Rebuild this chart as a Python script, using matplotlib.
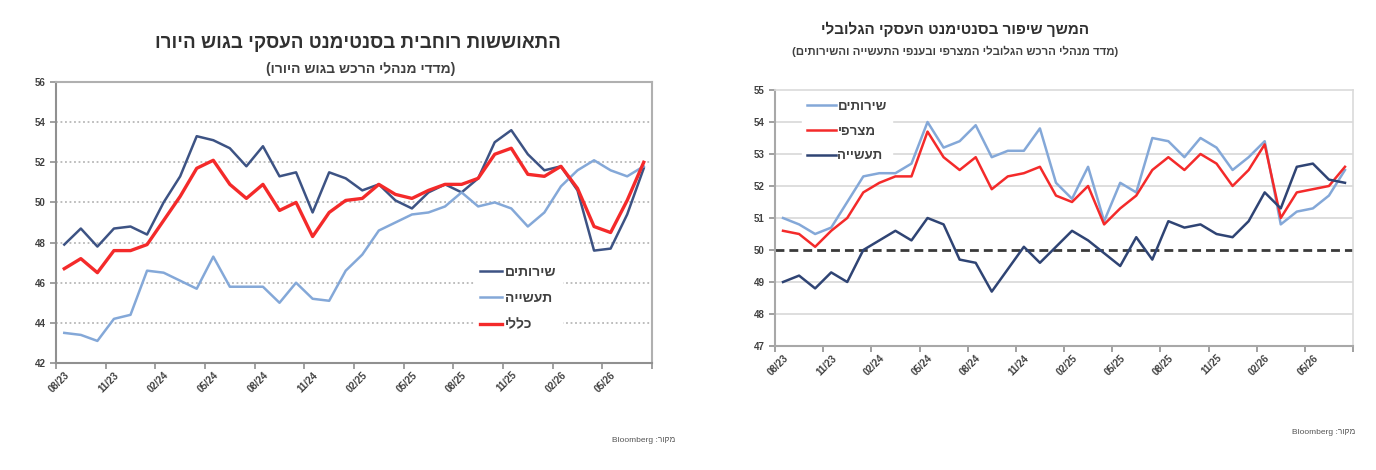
import numpy as np
import matplotlib
matplotlib.use("Agg")
import matplotlib.pyplot as plt

plt.rcParams['font.family'] = ['Liberation Sans', 'DejaVu Sans']


def heb(s):
    # matplotlib has no bidi: reverse Hebrew for display, mirror brackets
    return s[::-1].translate(str.maketrans('()', ')('))


# 36 monthly points, 08/23 .. 07/26; label every third month
tick_labels = ["08/23", "11/23", "02/24", "05/24", "08/24", "11/24",
               "02/25", "05/25", "08/25", "11/25", "02/26", "05/26"]

# ---- Eurozone PMI (left) ----
ez_services = [47.9, 48.7, 47.8, 48.7, 48.8, 48.4, 50.0, 51.3, 53.3, 53.1, 52.7, 51.8,
               52.8, 51.3, 51.5, 49.5, 51.5, 51.2, 50.6, 50.9, 50.1, 49.7, 50.5, 50.9,
               50.5, 51.2, 53.0, 53.6, 52.4, 51.6, 51.8, 50.6, 47.6, 47.7, 49.4, 51.7]
ez_manuf = [43.5, 43.4, 43.1, 44.2, 44.4, 46.6, 46.5, 46.1, 45.7, 47.3, 45.8, 45.8,
            45.8, 45.0, 46.0, 45.2, 45.1, 46.6, 47.4, 48.6, 49.0, 49.4, 49.5, 49.8,
            50.5, 49.8, 50.0, 49.7, 48.8, 49.5, 50.8, 51.6, 52.1, 51.6, 51.3, 51.8]
ez_composite = [46.7, 47.2, 46.5, 47.6, 47.6, 47.9, 49.1, 50.3, 51.7, 52.1, 50.9, 50.2,
                50.9, 49.6, 50.0, 48.3, 49.5, 50.1, 50.2, 50.9, 50.4, 50.2, 50.6, 50.9,
                50.9, 51.2, 52.4, 52.7, 51.4, 51.3, 51.8, 50.7, 48.8, 48.5, 50.1, 52.0]

# ---- Global PMI (right) ----
gl_services = [51.0, 50.8, 50.5, 50.7, 51.5, 52.3, 52.4, 52.4, 52.7, 54.0, 53.2, 53.4,
               53.9, 52.9, 53.1, 53.1, 53.8, 52.1, 51.6, 52.6, 50.9, 52.1, 51.8, 53.5,
               53.4, 52.9, 53.5, 53.2, 52.5, 52.9, 53.4, 50.8, 51.2, 51.3, 51.7, 52.5]
gl_composite = [50.6, 50.5, 50.1, 50.6, 51.0, 51.8, 52.1, 52.3, 52.3, 53.7, 52.9, 52.5,
                52.9, 51.9, 52.3, 52.4, 52.6, 51.7, 51.5, 52.0, 50.8, 51.3, 51.7, 52.5,
                52.9, 52.5, 53.0, 52.7, 52.0, 52.5, 53.3, 51.0, 51.8, 51.9, 52.0, 52.6]
gl_manuf = [49.0, 49.2, 48.8, 49.3, 49.0, 50.0, 50.3, 50.6, 50.3, 51.0, 50.8, 49.7,
            49.6, 48.7, 49.4, 50.1, 49.6, 50.1, 50.6, 50.3, 49.9, 49.5, 50.4, 49.7,
            50.9, 50.7, 50.8, 50.5, 50.4, 50.9, 51.8, 51.3, 52.6, 52.7, 52.2, 52.1]

NAVY = "#3d5384"
LIGHT = "#84a8d8"
RED = "#f42a2a"
TXT = "#404040"

x = np.arange(len(ez_services))

fig = plt.figure(figsize=(13.76, 4.70), dpi=100)


def setup_xaxis(ax):
    ax.set_xlim(-0.5, len(x) - 0.5)
    ax.set_xticks(np.arange(-0.5, len(x), 3))
    ax.set_xticklabels([])
    ax.set_xticks(np.arange(0, len(x), 3), tick_labels, minor=True)
    ax.tick_params(axis="x", which="major", length=4, width=1.2, color="#909090")
    ax.tick_params(axis="x", which="minor", length=0, pad=5)
    for lab in ax.get_xticklabels(minor=True):
        lab.set_rotation(45)
        lab.set_ha("right")
        lab.set_rotation_mode("anchor")
        lab.set_fontsize(7)
        lab.set_fontweight("bold")
        lab.set_color(TXT)
    ax.tick_params(axis="y", length=4, width=1.2, color="#909090",
                   labelsize=7, labelcolor=TXT)
    for lab in ax.get_yticklabels():
        lab.set_fontweight("bold")


# ---------------- left: eurozone ----------------
ax1 = fig.add_axes([56 / 1376, 1 - 363 / 470, 596 / 1376, 281 / 470])
ax1.set_ylim(42, 56)
ax1.set_yticks(range(42, 57, 2))
for v in range(44, 56, 2):
    ax1.axhline(v, color="#b8b8b8", lw=1.3, ls=(0, (1, 1.5)), zorder=0)
ax1.plot(x, ez_services, color=NAVY, lw=1.8, label=heb("שירותים"))
ax1.plot(x, ez_manuf, color=LIGHT, lw=1.8, label=heb("תעשייה"))
ax1.plot(x, ez_composite, color=RED, lw=2.4, label=heb("כללי"))
setup_xaxis(ax1)
for s in ax1.spines.values():
    s.set_color("#b0b0b0")
    s.set_linewidth(1.5)
ax1.spines["left"].set_color("#909090")
ax1.spines["bottom"].set_color("#909090")
leg1 = ax1.legend(loc="upper left", bbox_to_anchor=(0.69, 0.395), frameon=True,
                  fancybox=False, edgecolor="white", framealpha=1,
                  handlelength=1.6, handletextpad=0.2, labelspacing=0.9,
                  prop={"size": 10, "weight": "bold"})
for t in leg1.get_texts():
    t.set_color(TXT)

fig.text(358 / 1376, 1 - 43 / 470, heb("התאוששות רוחבית בסנטימנט העסקי בגוש היורו"),
         ha="center", va="center", fontsize=13.5, fontweight="bold", color="#303030")
fig.text(361 / 1376, 1 - 69 / 470, heb("(מדדי מנהלי הרכש בגוש היורו)"),
         ha="center", va="center", fontsize=10, fontweight="bold", color="#404040")
fig.text(675 / 1376, 1 - 440 / 470, "Bloomberg :" + heb("מקור"),
         ha="right", va="center", fontsize=6, color="#555555")

# ---------------- right: global ----------------
ax2 = fig.add_axes([775 / 1376, 1 - 346 / 470, 578 / 1376, 256 / 470])
ax2.set_ylim(47, 55)
ax2.set_yticks(range(47, 56))
for v in range(48, 55):
    if v != 50:
        ax2.axhline(v, color="#d4d4d4", lw=1.1, zorder=0)
ax2.axhline(50, color="#3a3a3a", lw=2, ls=(0, (3.2, 1.8)), zorder=1)
ax2.plot(x, gl_services, color=LIGHT, lw=1.8, label=heb("שירותים"), zorder=3)
ax2.plot(x, gl_composite, color=RED, lw=1.8, label=heb("מצרפי"), zorder=3)
ax2.plot(x, gl_manuf, color="#2f4474", lw=1.8, label=heb("תעשייה"), zorder=3)
setup_xaxis(ax2)
for s in ax2.spines.values():
    s.set_color("#dadada")
    s.set_linewidth(1.2)
ax2.spines["left"].set_color("#a8a8a8")
ax2.spines["bottom"].set_color("#a8a8a8")
ax2.spines["left"].set_linewidth(1.5)
ax2.spines["bottom"].set_linewidth(1.5)
leg2 = ax2.legend(loc="upper left", bbox_to_anchor=(0.035, 1.005), frameon=True,
                  fancybox=False, edgecolor="white", framealpha=1,
                  handlelength=2.2, handletextpad=0.1, labelspacing=0.95,
                  prop={"size": 9.5, "weight": "bold"})
for t in leg2.get_texts():
    t.set_color(TXT)

fig.text(955 / 1376, 1 - 29 / 470, heb("המשך שיפור בסנטימנט העסקי הגלובלי"),
         ha="center", va="center", fontsize=11, fontweight="bold", color="#303030")
fig.text(955 / 1376, 1 - 51 / 470, heb("(מדד מנהלי הרכש הגלובלי המצרפי ובענפי התעשייה והשירותים)"),
         ha="center", va="center", fontsize=8.2, fontweight="bold", color="#404040")
fig.text(1355 / 1376, 1 - 433 / 470, "Bloomberg :" + heb("מקור"),
         ha="right", va="center", fontsize=6, color="#555555")

fig.savefig("out.png", dpi=100)
